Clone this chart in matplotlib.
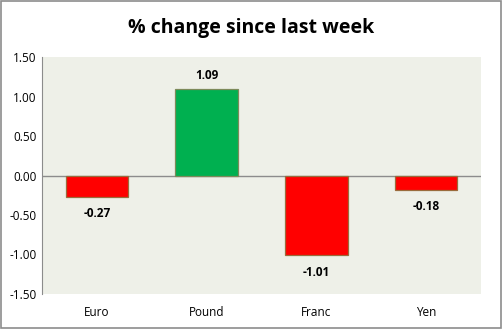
import numpy as np
import matplotlib
matplotlib.use("Agg")
from matplotlib import pyplot as plt
from matplotlib.patches import Rectangle

# chart data
currencies = ["Euro", "Pound", "Franc", "Yen"]
changes = [-0.27, 1.09, -1.01, -0.18]
yticks = [-1.5, -1.0, -0.5, 0.0, 0.5, 1.0, 1.5]

plt.rcParams['font.family'] = ['Open Sans', 'DejaVu Sans']

fig = plt.figure(figsize=(5.03, 3.29), dpi=100)
fig.patch.set_facecolor("white")
# outer frame
fig.patches.append(Rectangle((0.002, 0.003), 0.995, 0.994, transform=fig.transFigure,
                             fill=False, edgecolor="#8c8c8c", linewidth=1.2))

ax = fig.add_axes([0.0835, 0.1064, 0.8728, 0.7203])
ax.set_facecolor("#eef0e8")

x = np.arange(len(currencies))
colors = ["#00b050" if v > 0 else "#ff0000" for v in changes]
edges = ["#7d8a5a" if v > 0 else "#9a6b3c" for v in changes]
ax.bar(x, changes, width=0.57, color=colors, edgecolor=edges, linewidth=0.9, zorder=3)

# zero line
ax.axhline(0, color="#8c8c8c", linewidth=1, zorder=2)

# value labels
for xi, v in zip(x, changes):
    if v >= 0:
        ax.text(xi, v + 0.1, "%.2f" % v, ha="center", va="bottom", fontsize=8.5, fontweight="bold")
    else:
        ax.text(xi, v - 0.13, "%.2f" % v, ha="center", va="top", fontsize=8.5, fontweight="bold")

ax.set_xlim(-0.5, len(currencies) - 0.5)
ax.set_ylim(-1.5, 1.5)
ax.set_yticks(yticks)
ax.set_yticklabels(["%.2f" % t for t in yticks], fontsize=8.5)
ax.set_xticks(x)
ax.set_xticklabels(currencies, fontsize=8.5)
ax.tick_params(axis="both", length=0)
ax.tick_params(axis="y", pad=4)
ax.tick_params(axis="x", pad=9)

for s in ["top", "right", "bottom"]:
    ax.spines[s].set_visible(False)
ax.spines["left"].set_color("#8c8c8c")

fig.text(0.5, 0.915, "% change since last week", ha="center", va="center",
         fontsize=14, fontweight="bold")

fig.savefig("out.png", dpi=100)
